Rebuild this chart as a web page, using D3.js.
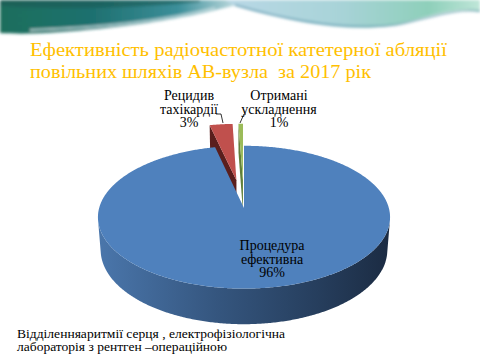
<!DOCTYPE html>
<html>
<head>
<meta charset="utf-8">
<script src="https://cdn.jsdelivr.net/npm/d3@7"></script>
<style>
  html, body { margin: 0; padding: 0; background: #fff; }
  text { white-space: pre; font-family: "Liberation Serif", "DejaVu Serif", serif; }
</style>
</head>
<body>
<div id="chart"></div>
<script>
// data
const categories = ["Процедура ефективна", "Рецидив тахікардії", "Отримані ускладнення"];
const labelLines = [["Процедура", "ефективна"], ["Рецидив", "тахікардії"], ["Отримані", "ускладнення"]];
const values = [96.4, 3.0, 0.6];
const titleLines = ["Ефективність радіочастотної катетерної абляції", "повільних шляхів АВ-вузла  за 2017 рік"];
const footerLines = ["Відділенняаритмії серця , електрофізіологічна", "лабораторія з рентген –операційною"];

// styles / layout
const topColors = ["#4F81BD", "#C0504D", "#9BBB59"];
const wallColors = ["#2d4d75", "#5a1e1d", "#62803a"];
const explode = [0, 0.42, 0.42];
const labelPos = [[272, 250], [189, 100], [279, 100]];
const leaders = [null, [[216, 114], [221, 114], [223, 123]], [[246, 114], [244, 114], [240, 123]]];

const W = 480, H = 360;
const svg = d3.select("#chart").append("svg").attr("width", W).attr("height", H);
const defs = svg.append("defs");

// header swoosh
defs.append("filter").attr("id", "blur").append("feGaussianBlur").attr("stdDeviation", 1.6);
const g1 = defs.append("linearGradient").attr("id", "darkwave").attr("x1", 0).attr("x2", 1);
[["0%", "#1f6e5c"], ["35%", "#1d6f6e"], ["70%", "#3c8f9a"], ["100%", "#e8f2f4"]]
  .forEach(s => g1.append("stop").attr("offset", s[0]).attr("stop-color", s[1]));
const g2 = defs.append("linearGradient").attr("id", "lightwave").attr("x1", 0).attr("x2", 1);
[["0%", "#b9d8e6"], ["45%", "#a8d3d8"], ["80%", "#8ecfba"], ["100%", "#bfe6d8"]]
  .forEach(s => g2.append("stop").attr("offset", s[0]).attr("stop-color", s[1]));

const head = svg.append("g").attr("filter", "url(#blur)");
head.append("path").attr("d", "M0,0 H255 C225,8 170,24 60,32 C35,34 15,34 0,33 Z").attr("fill", "url(#darkwave)");
head.append("path").attr("d", "M0,6 C60,10 140,8 200,2 L200,0 H0 Z").attr("fill", "#1c5a55").attr("opacity", 0.6);
head.append("path").attr("d", "M30,30 C90,28 160,22 215,8").attr("stroke", "#cfe3e6").attr("stroke-width", 2).attr("fill", "none").attr("opacity", 0.8);
head.append("path").attr("d", "M225,0 H480 V12 C455,6 430,16 395,25 C355,32 305,26 235,6 Z").attr("fill", "url(#lightwave)");
head.append("path").attr("d", "M235,5 C300,24 350,30 395,25 C430,18 455,8 480,11").attr("stroke", "#3f86a0").attr("stroke-width", 1.6).attr("fill", "none").attr("opacity", 0.7);

// title
svg.selectAll(".title").data(titleLines).enter().append("text")
  .attr("class", "title")
  .attr("x", 30).attr("y", (d, i) => 56 + i * 22)
  .attr("textLength", (d, i) => i === 0 ? 417 : 341)
  .attr("lengthAdjust", "spacingAndGlyphs")
  .attr("font-size", 18)
  .attr("fill", "#FFC000").text(d => d);

// 3D pie projection
const f = 985, D = 6.8, tilt = 29 * Math.PI / 180, sn = Math.sin(tilt), cs = Math.cos(tilt);
const depth = 0.262, cx = 244, cy = 208;
const cam = [0, D * sn, D * cs];
function proj(X, Y, Z) {
  const w = D - (Y * sn + Z * cs);
  const u = Y * cs - Z * sn;
  return [cx + f * X / w, cy - f * u / w];
}
const line = d3.line();

const pie = d3.pie().sort(null).value(d => d)(values);
const slices = pie.map((p, i) => {
  const mid = (p.startAngle + p.endAngle) / 2;
  return { p, i, mid, ox: explode[i] * Math.sin(mid), oz: -explode[i] * Math.cos(mid) };
}).sort((a, b) => (-Math.cos(a.mid) + a.oz) - (-Math.cos(b.mid) + b.oz));

// side gradient for blue outer wall
const sg = defs.append("linearGradient").attr("id", "side0").attr("gradientUnits", "userSpaceOnUse")
  .attr("x1", 99).attr("x2", 391).attr("y1", 0).attr("y2", 0);
[["0%", "#4a76ab"], ["40%", "#35567f"], ["75%", "#263e5d"], ["100%", "#1b2b42"]]
  .forEach(s => sg.append("stop").attr("offset", s[0]).attr("stop-color", s[1]));

const pieG = svg.append("g");
slices.forEach(sl => {
  const { p, i, ox, oz } = sl;
  const a0 = p.startAngle, a1 = p.endAngle;
  const n = Math.max(4, Math.ceil((a1 - a0) / 0.01));
  const angs = d3.range(n + 1).map(k => a0 + (a1 - a0) * k / n);
  const rim = (a, Y) => proj(ox + Math.sin(a), Y, oz - Math.cos(a));

  // outer wall, visible runs only
  const vis = a => {
    const nx = Math.sin(a), nz = -Math.cos(a);
    const px = ox + Math.sin(a), pz = oz - Math.cos(a);
    return nx * (cam[0] - px) + nz * (cam[2] - pz) > 0;
  };
  let runs = [], cur = [];
  angs.forEach(a => {
    if (vis(a)) cur.push(a);
    else if (cur.length) { runs.push(cur); cur = []; }
  });
  if (cur.length) runs.push(cur);
  runs.forEach(r => {
    if (r.length < 2) return;
    const pts = r.map(a => rim(a, 0)).concat(r.slice().reverse().map(a => rim(a, -depth)));
    pieG.append("path").attr("d", line(pts) + "Z")
      .attr("fill", i === 0 ? "url(#side0)" : wallColors[i]);
  });

  // radial walls
  const apexT = proj(ox, 0, oz), apexB = proj(ox, -depth, oz);
  [[a0, -1], [a1, 1]].forEach(([a, sgn]) => {
    const nx = sgn * Math.cos(a), nz = sgn * Math.sin(a);
    if (nx * (cam[0] - ox) + nz * (cam[2] - oz) <= 0.02) return;
    const pts = [apexT, rim(a, 0), rim(a, -depth), apexB];
    pieG.append("path").attr("d", line(pts) + "Z").attr("fill", wallColors[i]);
  });

  // top face
  const top = [apexT].concat(angs.map(a => rim(a, 0)));
  pieG.append("path").attr("d", line(top) + "Z").attr("fill", topColors[i]);
});

// leader lines
leaders.forEach(l => {
  if (!l) return;
  svg.append("path").attr("d", d3.line()(l)).attr("fill", "none").attr("stroke", "#000").attr("stroke-width", 0.8);
});

// labels
const total = d3.sum(values);
categories.forEach((c, i) => {
  const t = svg.append("text").attr("class", "lbl")
    .attr("font-size", 14)
    .attr("text-anchor", "middle").attr("fill", "#000");
  const lines = labelLines[i].concat([Math.round(values[i] / total * 100) + "%"]);
  lines.forEach((s, k) => {
    t.append("tspan").attr("x", labelPos[i][0]).attr("y", labelPos[i][1] + k * 13.5).text(s);
  });
});

// footer
svg.selectAll(".foot").data(footerLines).enter().append("text")
  .attr("class", "foot")
  .attr("x", 17).attr("y", (d, i) => 338 + i * 13)
  .attr("textLength", (d, i) => i === 0 ? 268 : 210)
  .attr("lengthAdjust", "spacingAndGlyphs")
  .attr("font-size", 12.5)
  .attr("fill", "#000").text(d => d);
</script>
</body>
</html>
